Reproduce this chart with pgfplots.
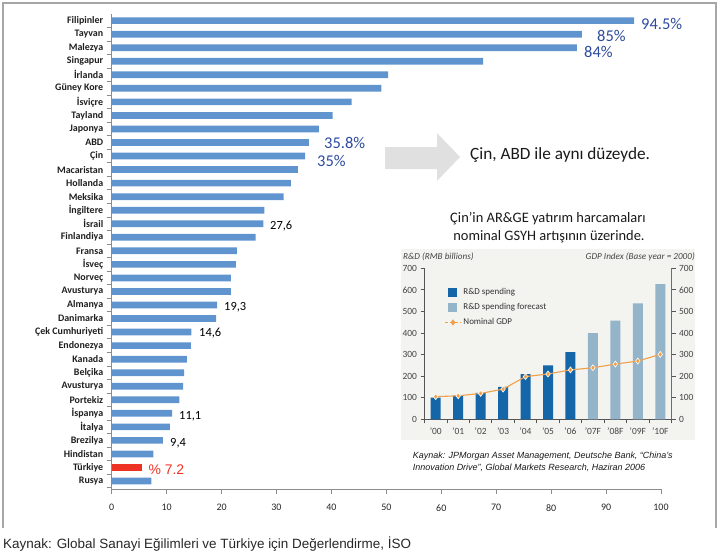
\documentclass[border=0pt]{standalone}
\usepackage{fontspec}
\setmainfont{Carlito}
\newfontfamily\arial{Liberation Sans}
\usepackage{pgfplots}
\pgfplotsset{compat=1.18}
\definecolor{barblue}{RGB}{96,148,206}
\definecolor{annblue}{RGB}{44,74,158}
\definecolor{tred}{RGB}{238,51,36}
\definecolor{rd}{RGB}{20,102,168}
\definecolor{rdf}{RGB}{148,180,202}
\definecolor{gdp}{RGB}{240,160,72}
\definecolor{insetbg}{RGB}{243,243,240}
\definecolor{framegray}{RGB}{166,166,166}
\definecolor{arrowgray}{RGB}{224,224,224}
\definecolor{axisgray}{RGB}{140,140,140}
\definecolor{inaxis}{RGB}{85,85,85}
\definecolor{intext}{RGB}{68,68,68}
\begin{document}
\begin{tikzpicture}
\useasboundingbox (0,0) rectangle (723bp,-556bp);
% frame
\draw[framegray, line width=1.5bp] (3bp,-528bp) -- (3bp,-3bp) -- (716bp,-3bp) -- (716bp,-528bp);
% main axis
\begin{axis}[
  at={(111.7bp,-489bp)}, anchor=south west,
  scale only axis, width=549.3bp, height=475bp,
  xmin=0, xmax=100, ymin=-0.59, ymax=34.49,
  axis x line*=bottom, axis y line*=left,
  axis line style={draw=axisgray, line width=0.8bp},
  every tick/.style={draw=axisgray, line width=0.8bp},
  tick align=outside, major tick length=5bp, minor tick length=5bp,
  xtick={0,10,...,100},
  ytick={0,...,34},
  minor ytick={-0.5,0.5,...,34.5},
  every major y tick/.append style={draw=none},
  yticklabels={Rusya,Türkiye,Hindistan,Brezilya,İtalya,İspanya,Portekiz,Avusturya,Belçika,Kanada,Endonezya,Çek Cumhuriyeti,Danimarka,Almanya,Avusturya,Norveç,İsveç,Fransa,Finlandiya,İsrail,İngiltere,Meksika,Hollanda,Macaristan,Çin,ABD,Japonya,Tayland,İsviçre,Güney Kore,İrlanda,Singapur,Malezya,Tayvan,Filipinler},
  yticklabel style={font=\bfseries\fontsize{10}{11}\selectfont, text=black!88},
  xticklabel style={font=\fontsize{10}{12}\selectfont, text=black!85, yshift=-7bp},
  /pgf/number format/assume math mode=true,
  xbar, bar width=6.7bp, bar shift=0pt,
  clip=false,
]
\addplot[fill=barblue, draw=none] coordinates {
(7.2,0) (7.6,2) (9.3,3) (10.6,4) (11.0,5) (12.3,6) (13.0,7) (13.2,8) (13.7,9)
(14.4,10) (14.5,11) (19.0,12) (19.2,13) (21.7,14) (21.7,15) (22.6,16) (22.8,17)
(26.2,18) (27.6,19) (27.8,20) (31.3,21) (32.6,22) (33.9,23) (35.2,24) (35.9,25)
(37.7,26) (40.2,27) (43.7,28) (49.1,29) (50.3,30) (67.6,31) (84.7,32) (85.6,33) (95.1,34)};
\addplot[fill=tred, draw=none] coordinates {(5.6,1)};
\end{axis}
% annotations main
\begin{scope}[every node/.style={inner sep=0pt, anchor=base west}]
\node[text=annblue, font=\fontsize{16.5}{18}\selectfont] at (641bp,-29.3bp) {94.5\%};
\node[text=annblue, font=\fontsize{16.5}{18}\selectfont] at (597bp,-41bp) {85\%};
\node[text=annblue, font=\fontsize{16.5}{18}\selectfont] at (584bp,-57.7bp) {84\%};
\node[text=annblue, font=\fontsize{16.5}{18}\selectfont] at (324bp,-148bp) {35.8\%};
\node[text=annblue, font=\fontsize{16.5}{18}\selectfont] at (317bp,-166.7bp) {35\%};
\node[font=\fontsize{12.5}{14}\selectfont] at (270bp,-229.3bp) {27,6};
\node[font=\fontsize{12.5}{14}\selectfont] at (224bp,-310bp) {19,3};
\node[font=\fontsize{12.5}{14}\selectfont] at (199bp,-336.5bp) {14,6};
\node[font=\fontsize{12.5}{14}\selectfont] at (179bp,-419bp) {11,1};
\node[font=\fontsize{12.5}{14}\selectfont] at (170bp,-446bp) {9,4};
\node[text=tred, font=\arial\fontsize{14}{16}\selectfont] at (148.3bp,-474bp) {\% 7.2};
\node[font=\fontsize{17.3}{19}\selectfont, text=black!90] at (470bp,-159bp) {Çin, ABD ile aynı düzeyde.};
\node[font=\arial\fontsize{13.5}{15}\selectfont, text=black!85] at (3bp,-548bp) {Kaynak: Global Sanayi Eğilimleri ve Türkiye için Değerlendirme, İSO};
\end{scope}
% arrow
\fill[arrowgray] (385bp,-147bp) -- (437bp,-147bp) -- (437bp,-133bp) -- (460bp,-157bp) -- (437bp,-181bp) -- (437bp,-169bp) -- (385bp,-169bp) -- cycle;
% inset title
\node[font=\fontsize{14.5}{16}\selectfont, text=black!90, anchor=base] at (548bp,-222bp) {Çin’in AR\&GE yatırım harcamaları};
\node[font=\fontsize{14.5}{16}\selectfont, text=black!90, anchor=base] at (549bp,-240bp) {nominal GSYH artışının üzerinde.};
% inset background
\fill[insetbg] (401bp,-249bp) rectangle (695bp,-440bp);
\node[font=\itshape\fontsize{9.2}{10}\selectfont, text=intext, anchor=base west, inner sep=0pt] at (403bp,-259bp) {R\&D (RMB billions)};
\node[font=\itshape\fontsize{9.2}{10}\selectfont, text=intext, anchor=base east, inner sep=0pt] at (695bp,-259bp) {GDP Index (Base year = 2000)};
\node[font=\arial\itshape\fontsize{9}{11}\selectfont, text=black!90, anchor=base west, inner sep=0pt, align=left] at (412.7bp,-458bp) {Kaynak: JPMorgan Asset Management, Deutsche Bank, “China’s};
\node[font=\arial\itshape\fontsize{9}{11}\selectfont, text=black!90, anchor=base west, inner sep=0pt, align=left] at (412.7bp,-470bp) {Innovation Drive”, Global Markets Research, Haziran 2006};
% inset axis 1 (bars)
\begin{axis}[
  at={(424.5bp,-419.3bp)}, anchor=south west,
  scale only axis, width=247bp, height=151bp,
  xmin=-0.5, xmax=10.5, ymin=0, ymax=700,
  axis x line*=bottom, axis y line*=left,
  axis line style={draw=inaxis, line width=0.8bp},
  every tick/.style={draw=inaxis, line width=0.8bp},
  tick align=outside, major tick length=4bp, minor tick length=4bp,
  ytick={0,100,...,700},
  xtick={0,...,10},
  xticklabels={’00,’01,’02,’03,’04,’05,’06,’07F,’08F,’09F,’10F},
  minor xtick={-0.5,0.5,...,10.5},
  every major x tick/.append style={draw=none},
  ticklabel style={font=\fontsize{9.5}{11}\selectfont, text=intext},
  xticklabel style={yshift=-1.5bp},
  /pgf/number format/assume math mode=true,
  ybar, bar width=10bp, bar shift=0pt,
]
\addplot[fill=rd, draw=none] coordinates {(0,100) (1,110) (2,122) (3,150) (4,210) (5,250) (6,312)};
\addplot[fill=rdf, draw=none] coordinates {(7,400) (8,457) (9,537) (10,627)};
\end{axis}
% inset axis 2 (GDP line, right axis)
\begin{axis}[
  at={(424.5bp,-419.3bp)}, anchor=south west,
  scale only axis, width=247bp, height=151bp,
  xmin=-0.5, xmax=10.5, ymin=0, ymax=700,
  axis x line=none, axis y line*=right,
  axis line style={draw=inaxis!85, line width=1.6bp},
  every tick/.style={draw=inaxis, line width=0.8bp},
  tick align=outside, major tick length=4bp,
  ytick={0,100,...,700},
  ticklabel style={font=\fontsize{9.5}{11}\selectfont, text=intext},
  /pgf/number format/assume math mode=true,
  legend style={at={(0.08,0.883)}, anchor=north west, draw=none, fill=none,
    font=\fontsize{9}{10}\selectfont, text=black!80, row sep=3.5bp, inner sep=0pt,
    nodes={inner sep=2bp}},
  legend cell align=left,
]
\addlegendimage{legend image code/.code={\path[draw=none,fill=none] (0bp,0bp) -- (16bp,0bp); \fill[rd, draw=none] (3.5bp,-4.5bp) rectangle (12.5bp,4.5bp);}}
\addlegendentry{R\&D spending}
\addlegendimage{legend image code/.code={\path[draw=none,fill=none] (0bp,0bp) -- (16bp,0bp); \fill[rdf, draw=none] (3.5bp,-4.5bp) rectangle (12.5bp,4.5bp);}}
\addlegendentry{R\&D spending forecast}
\addlegendimage{legend image code/.code={\draw[gdp, line width=1bp, dash pattern=on 3bp off 2bp] (0bp,0bp) -- (16bp,0bp); \draw[gdp, fill=gdp, mark size=2.8bp] plot[mark=diamond*] coordinates {(8bp,0bp)};}}
\addlegendentry{Nominal GDP}
\addplot[gdp, line width=1.1bp, mark=diamond*, mark size=3bp, mark options={fill=gdp, draw=white, line width=0.6bp}, forget plot]
  coordinates {(0,105) (1,109) (2,120) (3,140) (4,198) (5,210) (6,229) (7,239) (8,256) (9,270) (10,301)};
\end{axis}
\end{tikzpicture}
\end{document}
